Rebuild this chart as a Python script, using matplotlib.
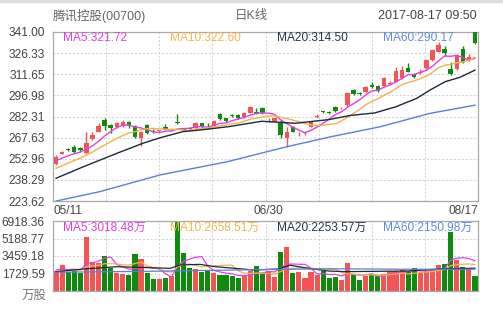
import numpy as np
import matplotlib
matplotlib.use("Agg")
import matplotlib.pyplot as plt
from matplotlib.patches import Rectangle

plt.rcParams['font.family'] = ['Liberation Sans', 'Noto Sans CJK SC', 'DejaVu Sans']

# ---------------- data ----------------
title_left = "腾讯控股(00700)"
title_mid = "日K线"
title_right = "2017-08-17 09:50"
date_labels = ["05/11", "06/30", "08/17"]
date_idx = [-0.5, 35, 69.5]

opens = [249.3, 256.5, 259.7, 261.3, 260.6, 257.2, 266.5, 271.8, 279.9, 276.4,
         274.8, 275.9, 278.3, 275.7, 267.2, 276.4, 272.3, 272.2, 275.2, 272.6,
         278.7, 273.3, 274.2, 274.1, 277.6, 275.8, 275.9, 283.8, 281.1, 283.5,
         283.3, 281.8, 285.0, 285.6, 288.0, 279.6, 278.7, 278.7, 267.2, 275.2,
         269.9, 270.6, 275.2, 282.2, 285.8, 285.3, 289.1, 288.0, 290.3, 300.7,
         298.7, 299.1, 304.2, 303.7, 303.5, 305.2, 306.5, 308.8, 316.2, 311.8,
         312.6, 315.8, 321.6, 327.3, 329.0, 315.1, 315.1, 329.0, 321.6, 341.0]
closes = [254.4, 257.8, 259.3, 257.9, 259.0, 263.7, 269.5, 275.7, 275.7, 274.5,
          277.6, 278.5, 275.7, 268.3, 271.8, 271.0, 271.6, 272.6, 273.4, 273.0,
          277.6, 272.9, 273.8, 277.6, 274.8, 275.4, 279.4, 280.6, 278.9, 282.9,
          281.0, 285.0, 288.7, 284.8, 284.5, 280.1, 281.0, 269.5, 271.8, 271.8,
          270.4, 271.1, 278.7, 282.8, 285.4, 284.9, 286.3, 288.4, 298.4, 298.0,
          298.2, 303.0, 302.8, 300.2, 309.3, 305.8, 314.1, 314.6, 313.4, 309.5,
          313.1, 321.6, 328.5, 332.0, 326.6, 311.8, 325.0, 320.4, 323.4, 333.1]
highs = [255.5, 258.5, 260.3, 262.5, 261.2, 271.8, 271.8, 277.6, 281.0, 277.0,
         278.2, 279.9, 279.2, 276.6, 272.5, 277.0, 273.3, 273.2, 276.9, 273.8,
         284.0, 274.0, 274.8, 278.2, 278.1, 278.0, 280.0, 285.0, 281.6, 284.2,
         283.8, 285.6, 289.4, 288.0, 288.6, 281.0, 281.6, 279.9, 275.2, 275.8,
         271.3, 272.0, 279.3, 283.8, 286.4, 285.9, 289.7, 289.2, 299.0, 301.4,
         299.5, 303.6, 306.0, 304.3, 309.9, 306.8, 316.9, 317.5, 319.3, 312.4,
         315.3, 322.2, 329.1, 334.3, 331.0, 320.4, 325.6, 331.3, 325.8, 341.0]
lows = [248.5, 256.0, 258.6, 257.3, 257.5, 256.5, 266.0, 271.2, 272.9, 270.6,
        274.0, 275.3, 274.3, 267.5, 262.0, 270.3, 270.6, 271.4, 272.8, 271.9,
        277.2, 272.0, 273.2, 273.7, 274.2, 273.8, 275.4, 280.1, 278.2, 282.3,
        280.5, 281.3, 284.5, 284.2, 283.9, 278.5, 278.2, 267.2, 261.3, 271.2,
        268.9, 269.8, 274.7, 281.5, 284.6, 284.2, 285.6, 287.3, 289.8, 297.5,
        297.5, 298.6, 302.2, 299.6, 303.0, 304.5, 306.0, 308.3, 312.9, 309.0,
        312.0, 315.3, 321.1, 326.8, 324.3, 311.2, 314.6, 319.8, 321.0, 332.5]
volumes = [1980, 2570, 1846, 2075, 1750, 5370, 2850, 2750, 3490, 2306,
           1746, 1647, 1581, 3657, 3162, 1746, 1186, 1186, 1300, 1450,
           6918.36, 3800, 2306, 2174, 1846, 2075, 1746, 1581, 1581, 1515,
           1252, 1581, 1977, 2470, 1647, 1977, 1350, 3888, 4380, 1746,
           1846, 1318, 1911, 1581, 1977, 1318, 1417, 1087, 2734, 1581,
           1087, 1482, 1647, 1515, 1647, 2009, 2009, 2075, 1846, 2240,
           1746, 1977, 2174, 2570, 2635, 5797, 3064, 2400, 2174, 1515]

# closes / volumes of the days before 05/11 (estimated so the MA lines start where shown)
pre_closes = [239.5, 240.5, 241.0, 241.5, 242.5, 249.0, 250.5, 251.5, 252.6]
pre_volumes = [1600, 1800, 1700, 1750, 1770, 2000, 2200, 1900, 2300]

# long moving averages (day index, value)
ma20_idx = [0, 4.5, 10, 14.3, 17.1, 20.9, 23.7, 28.3, 33.9, 39.4, 45, 48.4, 52.5, 56, 59.4, 61.6, 64.1, 66.5, 69]
ma20_val = [239.4, 247.4, 256.7, 263.7, 267.5, 271.8, 272.9, 275.2, 279.0, 277.6, 280.2, 283.0, 284.8, 289.1, 294.9, 300.7, 306.5, 309.5, 314.5]
ma60_idx = [0, 7.2, 17.1, 28.2, 38.0, 45.1, 53.4, 61.6, 69]
ma60_val = [223.6, 230.1, 241.7, 250.9, 261.3, 268.1, 275.2, 284.5, 290.17]
vma20_idx = [0, 4.5, 10, 15.5, 18.8, 20.4, 23.7, 26.2, 29.5, 32.5, 36.6, 38.5, 41, 44.8, 47.6, 57.8, 63.2, 69]
vma20_val = [1911, 2174, 2400, 2300, 2240, 2570, 2635, 2400, 2240, 2075, 2174, 2550, 2300, 1977, 1911, 1977, 2174, 2253.57]
vma60_idx = [0, 15.5, 31.9, 45.1, 56.7, 69]
vma60_val = [1850, 1950, 2100, 2200, 2150, 2150.98]

price_ticks = ["223.62", "238.29", "252.96", "267.63", "282.31", "296.98", "311.65", "326.33", "341.00"]
vol_ticks = ["", "1729.59", "3459.18", "5188.77", "6918.36"]
vol_unit = "万股"
price_legend = ["MA5:321.72", "MA10:322.60", "MA20:314.50", "MA60:290.17"]
vol_legend = ["MA5:3018.48万", "MA10:2658.51万", "MA20:2253.57万", "MA60:2150.98万"]

# ---------------- styles ----------------
RED = "#f45454"
GREEN = "#0f8a0f"
MA_COLORS = ["#e23fe2", "#f3b249", "#1b2a3c", "#5b7fd9"]
LEG_COLORS = ["#e040e0", "#f5b54e", "#24364c", "#5f8ae2"]
GRID = "#cfcfcf"
SPINE = "#a8a8a8"
TXT = "#444444"

n = len(closes)
x = np.arange(n)
o = np.array(opens); c = np.array(closes); h = np.array(highs); l = np.array(lows)
v = np.array(volumes)
up = c >= o
cols = [RED if u else GREEN for u in up]

allc = np.array(pre_closes + closes)
allv = np.array(pre_volumes + volumes)
def ma(arr, k, pre):
    out = []
    for i in range(n):
        j = i + pre
        out.append(arr[j - k + 1:j + 1].mean())
    return np.array(out)
ma5 = ma(allc, 5, len(pre_closes)); ma10 = ma(allc, 10, len(pre_closes))
vma5 = ma(allv, 5, len(pre_volumes)); vma10 = ma(allv, 10, len(pre_volumes))

W, H = 503, 314
fig = plt.figure(figsize=(W / 100, H / 100), dpi=100)
fig.patch.set_facecolor("white")

def fx(px): return px / W
def fy(py): return 1 - py / H

axp = fig.add_axes([fx(53), fy(201), fx(478) - fx(53), fy(32) - fy(201)])
axv = fig.add_axes([fx(53), fy(291), fx(478) - fx(53), fy(221) - fy(291)])

# top strip
fig.patches.append(Rectangle((0, fy(2)), 1, 1 - fy(2), transform=fig.transFigure, color="#dcdcdc", zorder=0))

pmin, pmax = 223.62, 341.00
vmax = 6918.36
for ax in (axp, axv):
    ax.set_xlim(-0.5, n - 0.5)
    for s in ax.spines.values():
        s.set_color(SPINE); s.set_linewidth(0.9)
    for k in range(1, 8):
        ax.axvline(-0.5 + k * n / 8, color=GRID, lw=0.7, ls=(0, (2, 2)), zorder=0)
    ax.tick_params(length=0, labelsize=8.6, labelcolor=TXT, pad=6)

# price panel
axp.set_ylim(pmin, pmax)
pt = np.linspace(pmin, pmax, 9)
axp.set_yticks(pt)
axp.set_yticklabels(price_ticks)
for yv in pt[1:-1]:
    axp.axhline(yv, color=GRID, lw=0.7, ls=(0, (2, 2)), zorder=0)
axp.set_xticks(date_idx)
axp.set_xticklabels(date_labels)
lbls = axp.get_xticklabels()
lbls[0].set_ha("left"); lbls[2].set_ha("right")
axp.tick_params(axis="x", pad=3)

axp.vlines(x, l, h, colors=cols, lw=1.0, zorder=2)
body = np.maximum(np.abs(c - o), 0.45)
axp.bar(x, body, bottom=np.minimum(o, c), width=0.72, color=cols, zorder=3, linewidth=0)

axp.plot(x, ma5, color=MA_COLORS[0], lw=1.0, zorder=4)
axp.plot(x, ma10, color=MA_COLORS[1], lw=1.0, zorder=4)
axp.plot(ma20_idx, ma20_val, color=MA_COLORS[2], lw=1.0, zorder=4)
axp.plot(ma60_idx, ma60_val, color=MA_COLORS[3], lw=1.0, zorder=4)

leg_x = [63, 170, 277, 383]
for t, col, px in zip(price_legend, LEG_COLORS, leg_x):
    fig.text(fx(px), fy(38), t, color=col, fontsize=8.6, va="center", ha="left")
for t, col, px in zip(vol_legend, LEG_COLORS, leg_x):
    fig.text(fx(px), fy(228), t, color=col, fontsize=8.6, va="center", ha="left")

# volume panel
axv.set_ylim(0, vmax)
vt = np.linspace(0, vmax, 5)
axv.set_yticks(vt)
axv.set_yticklabels(vol_ticks)
for yv in vt[1:-1]:
    axv.axhline(yv, color=GRID, lw=0.7, ls=(0, (2, 2)), zorder=0)
axv.set_xticks([])
axv.bar(x, v, width=0.84, color=cols, zorder=2, linewidth=0)
axv.plot(x, vma5, color=MA_COLORS[0], lw=0.9, zorder=4)
axv.plot(x, vma10, color=MA_COLORS[1], lw=0.9, zorder=4)
axv.plot(vma20_idx, vma20_val, color=MA_COLORS[2], lw=0.9, zorder=4)
axv.plot(vma60_idx, vma60_val, color=MA_COLORS[3], lw=0.9, zorder=4)
fig.text(fx(47), fy(296), vol_unit, color="#777777", fontsize=9, ha="right", va="center")

# header
fig.text(fx(53), fy(16), title_left, color="#666666", fontsize=9, ha="left", va="center")
fig.text(fx(251), fy(16), title_mid, color="#666666", fontsize=9, ha="center", va="center")
fig.text(fx(477), fy(16), title_right, color="#444444", fontsize=9, ha="right", va="center")

fig.savefig("out.png", dpi=100, facecolor="white")
